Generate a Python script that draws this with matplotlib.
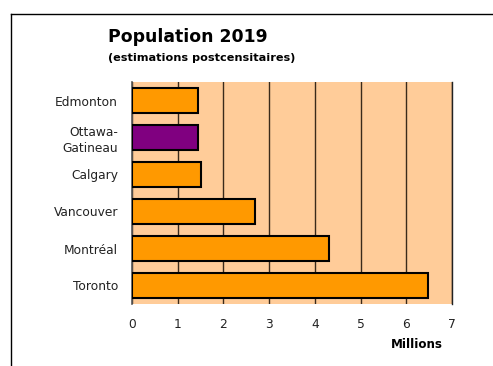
import matplotlib
matplotlib.use("Agg")
import matplotlib.pyplot as plt
from matplotlib.lines import Line2D

cities = ["Edmonton", "Ottawa-\nGatineau", "Calgary", "Vancouver", "Montréal", "Toronto"]
population = [1.45, 1.44, 1.51, 2.69, 4.32, 6.48]
bar_colors = ["#FF9900", "#800080", "#FF9900", "#FF9900", "#FF9900", "#FF9900"]
xticks = [0, 1, 2, 3, 4, 5, 6, 7]

plt.rcParams['font.family'] = ['DejaVu Sans']

fig = plt.figure(figsize=(4.93, 3.66), dpi=100)
ax = fig.add_axes([132/493, 1 - 304/366, 320/493, 222/366])
ax.set_facecolor("#FFCC99")

ypos = list(range(len(cities)))
ax.barh(ypos, population, height=0.65, color=bar_colors, edgecolor="black",
        linewidth=1.5, zorder=3)
ax.set_ylim(len(cities) - 0.5, -0.5)
ax.set_xlim(0, 7)
ax.set_xticks(xticks)
ax.set_xticklabels([str(t) for t in xticks], fontsize=8.8)
ax.set_yticks(ypos)
ax.set_yticklabels(cities, fontsize=8.8, linespacing=1.25)
ax.tick_params(axis='both', length=0, colors="#222222")
ax.tick_params(axis='x', pad=10)
ax.tick_params(axis='y', pad=10)
ax.xaxis.grid(True, color="#3a2a1a", linewidth=1.0, zorder=1)
ax.set_axisbelow(True)
for s in ["top", "bottom"]:
    ax.spines[s].set_visible(False)
ax.spines["left"].set_color("#555555")
ax.spines["left"].set_linewidth(1.2)
ax.spines["right"].set_color("#222222")
ax.spines["right"].set_linewidth(1.0)

fig.text(417/493, 1 - 345/366, "Millions", fontsize=8.6, fontweight="bold",
         ha="center", va="center")
fig.text(108/493, 1 - 37/366, "Population 2019", fontsize=12.4, fontweight="bold",
         ha="left", va="center")
fig.text(108/493, 1 - 58/366, "(estimations postcensitaires)", fontsize=8.1,
         fontweight="bold", ha="left", va="center")

fig.add_artist(Line2D([11/493, 11/493], [0, 1 - 14/366], transform=fig.transFigure,
                      color="black", linewidth=1))
fig.add_artist(Line2D([11/493, 1], [1 - 14/366, 1 - 14/366], transform=fig.transFigure,
                      color="black", linewidth=1))

fig.savefig("out.png", dpi=100)
